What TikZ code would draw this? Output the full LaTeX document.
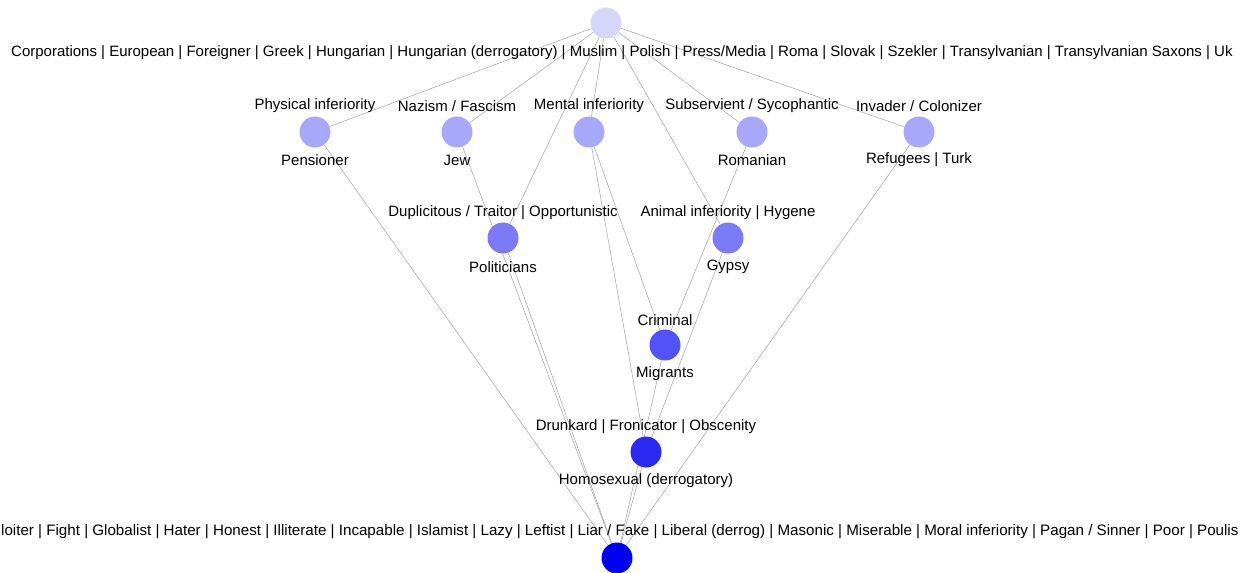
\documentclass[tikz,border=0pt]{standalone}
\usepackage{fontspec}
\setmainfont{Liberation Sans}
\definecolor{cT}{HTML}{D6D6FA}
\definecolor{c1}{HTML}{A8A8FA}
\definecolor{c2}{HTML}{7B7BF7}
\definecolor{c3}{HTML}{5252F8}
\definecolor{c4}{HTML}{2A2AF4}
\definecolor{c5}{HTML}{0000F0}
\pgfdeclarelayer{bg}
\pgfsetlayers{bg,main}
\begin{document}
\begin{tikzpicture}[x=1bp,y=-1bp,
  edge/.style={draw=black!40, line width=0.45bp},
  vert/.style={circle, minimum size=31bp, inner sep=0pt, draw=none},
  lbl/.style={font=\fontsize{15bp}{18bp}\selectfont, inner sep=0pt, text=black}]
\useasboundingbox (0,0) rectangle (1241,573);
\clip (0,0) rectangle (1241,573);
% vertices
\node[vert, fill=cT] (T) at (606,23) {};
\node[vert, fill=c1] (pen) at (315,132) {};
\node[vert, fill=c1] (jew) at (457,132) {};
\node[vert, fill=c1] (men) at (589,132) {};
\node[vert, fill=c1] (rom) at (752,132) {};
\node[vert, fill=c1] (ref) at (919,132) {};
\node[vert, fill=c2] (pol) at (503,238) {};
\node[vert, fill=c2] (gyp) at (728,238) {};
\node[vert, fill=c3] (mig) at (665,345) {};
\node[vert, fill=c4] (hom) at (646,452) {};
\node[vert, fill=c5] (B) at (617,558) {};
% labels
\node[lbl, anchor=west] (Tl) at (11,53) {Corporations | European | Foreigner | Greek | Hungarian | Hungarian (derrogatory) | Muslim | Polish | Press/Media | Roma | Slovak | Szekler | Transylvanian | Transylvanian Saxons | Uk};
\node[lbl] (penA) at (315,106) {Physical inferiority};
\node[lbl] (penB) at (315,160) {Pensioner};
\node[lbl] (jewA) at (457,106) {Nazism / Fascism};
\node[lbl] (jewB) at (457,160) {Jew};
\node[lbl] (menA) at (589,106) {Mental inferiority};
\node[lbl] (romA) at (752,106) {Subservient / Sycophantic};
\node[lbl] (romB) at (752,160) {Romanian};
\node[lbl] (refA) at (919,106) {Invader / Colonizer};
\node[lbl] (refB) at (919,160) {Refugees | Turk};
\node[lbl] (polA) at (503,213) {Duplicitous / Traitor | Opportunistic};
\node[lbl] (polB) at (503,267) {Politicians};
\node[lbl] (gypA) at (728,213) {Animal inferiority | Hygene};
\node[lbl] (gypB) at (728,267) {Gypsy};
\node[lbl] (migA) at (665,320) {Criminal};
\node[lbl] (migB) at (665,374) {Migrants};
\node[lbl] (homA) at (646,427) {Drunkard | Fronicator | Obscenity};
\node[lbl] (homB) at (646,481) {Homosexual (derrogatory)};
\node[lbl, anchor=west, font=\fontsize{15.15bp}{18bp}\selectfont] (Bl) at (1,532) {loiter | Fight | Globalist | Hater | Honest | Illiterate | Incapable | Islamist | Lazy | Leftist | Liar / Fake | Liberal (derrog) | Masonic | Miserable | Moral inferiority | Pagan / Sinner | Poor | Poulis};
% edges
\begin{pgfonlayer}{bg}
\draw[edge] (T) -- (pen);
\draw[edge] (T) -- (jew);
\draw[edge] (T) -- (pol);
\draw[edge] (T) -- (men);
\draw[edge] (T) -- (gyp);
\draw[edge] (T) -- (rom);
\draw[edge] (T) -- (ref);
\draw[edge] (pen) -- (B);
\draw[edge] (jew) -- (B);
\draw[edge] (pol) -- (B);
\draw[edge] (men) -- (mig);
\draw[edge] (men) -- (hom);
\draw[edge] (rom) -- (mig);
\draw[edge] (gyp) -- (hom);
\draw[edge] (ref) -- (B);
\draw[edge] (mig) -- (B);
\draw[edge] (hom) -- (B);
\end{pgfonlayer}
\end{tikzpicture}
\end{document}
